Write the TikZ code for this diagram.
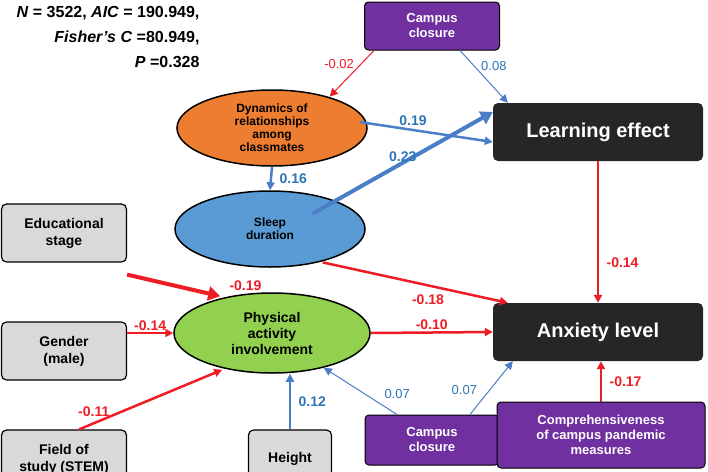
\documentclass[tikz,border=0pt]{standalone}
\usepackage{fontspec}
\setmainfont{Liberation Sans}
\usetikzlibrary{arrows.meta,shapes.geometric,positioning}
\definecolor{rd}{HTML}{EE1C24}
\definecolor{bl}{HTML}{4A7EC7}
\definecolor{lb}{HTML}{2E75B6}
\definecolor{org}{HTML}{ED7D31}
\definecolor{sky}{HTML}{5B9BD5}
\definecolor{grn}{HTML}{92D050}
\definecolor{pur}{HTML}{7030A0}
\definecolor{gry}{HTML}{D9D9D9}
\definecolor{blk}{HTML}{262626}
\tikzset{
 ell/.style={ellipse,draw=black,line width=1.5pt,minimum width=190,minimum height=76,align=center,font=\bfseries\fontsize{12}{13}\selectfont,inner sep=0pt},
 gbox/.style={rectangle,rounded corners=5,draw=black,line width=1.2pt,fill=gry,minimum width=125,minimum height=58,align=center,font=\bfseries\fontsize{14}{17}\selectfont},
 pbox/.style={rectangle,rounded corners=4,draw=black,line width=1pt,fill=pur,text=white,align=center,font=\bfseries\fontsize{13}{15}\selectfont},
 kbox/.style={rectangle,rounded corners=5,fill=blk,text=white,minimum width=210,minimum height=58,font=\bfseries\fontsize{20}{22}\selectfont},
 ar/.style={-{Triangle[length=8,width=8]}},
 rt/.style={ar,draw=rd,line width=1pt},
 rm/.style={ar,draw=rd,line width=2.5pt},
 rk/.style={ar,draw=rd,line width=4pt,-{Triangle[length=12,width=14]}},
 bt/.style={ar,draw=bl,line width=1pt},
 bm/.style={ar,draw=bl,line width=2.5pt},
 bk/.style={ar,draw=bl,line width=4pt,-{Triangle[length=12,width=14]}},
 rl/.style={text=rd,font=\bfseries\fontsize{14}{16}\selectfont},
 bl2/.style={text=lb,font=\bfseries\fontsize{14}{16}\selectfont},
 rs/.style={text=rd,font=\fontsize{13}{15}\selectfont},
 bs/.style={text=lb,font=\fontsize{13}{15}\selectfont},
}
\begin{document}
\begin{tikzpicture}[x=1pt,y=-1pt]
\useasboundingbox (0,0) rectangle (708,471);
\node[font=\bfseries\fontsize{16}{25}\selectfont,align=right,anchor=north east] (st) at (203,3) {\textit{N} = 3522, \textit{AIC} = 190.949,\\\textit{Fisher's C} =80.949,\\\textit{P} =0.328};
\node[pbox,minimum width=135,minimum height=48] (cc1) at (432,26) {Campus\\closure};
\node[ell,fill=org] (dyn) at (272,128) {Dynamics of\\relationships\\among\\classmates};
\node[kbox] (le) at (598,132) {Learning effect};
\node[ell,fill=sky] (sl) at (270,229) {Sleep\\duration};
\node[gbox] (ed) at (64,233) {Educational\\stage};
\node[gbox] (ge) at (64,351) {Gender\\(male)};
\node[gbox] (fi) at (64,459) {Field of\\study (STEM)};
\node[ell,fill=grn,minimum width=196,minimum height=80,font=\bfseries\fontsize{14}{16}\selectfont] (pa) at (272,333) {Physical\\activity\\involvement};
\node[kbox] (an) at (598,332) {Anxiety level};
\node[gbox,minimum width=83] (he) at (290,459) {Height};
\node[pbox,minimum width=134,minimum height=50] (cc2) at (432,440) {Campus\\closure};
\node[pbox,minimum width=208,minimum height=66] (co) at (601,435) {Comprehensiveness\\of campus pandemic\\measures};
% arrows
\draw[rt] ([xshift=10]cc1.south west) -- ([xshift=-10,yshift=4]dyn.north east) node[pos=0.3,rs,left=3] {-0.02};
\draw[bt] ([xshift=28]cc1.south) -- ([xshift=15]le.north west) node[pos=0.3,bs,right=3] {0.08};
\draw[bm] ([xshift=-8]dyn.east |- le.west) ++(0,-10) -- ([yshift=-10]le.west) node[pos=0.4,bl2,above] {0.19};
\draw[bm] (dyn.south) -- (sl.north) node[midway,bl2,right=4] {0.16};
\draw[bk] ([xshift=-25,yshift=-12]sl.north east) -- ([yshift=20]le.west) node[pos=0.5,bl2,above=4] {0.23};
\draw[rm] ([xshift=-15,yshift=-6]sl.south east) -- ([xshift=15]an.north west) node[pos=0.68,rl,below left=0] {-0.18};
\draw[rm] (le.south) -- (an.north) node[pos=0.72,rl,right=4] {-0.14};
\draw[rk] ([yshift=-12]ed.south east) -- ([xshift=18,yshift=8]pa.north west) node[pos=1,rl,anchor=south west,xshift=4] {-0.19};
\draw[rm] (ge.east |- pa.west) -- (pa.west) node[midway,rl,above=2] {-0.14};
\draw[rm] ([xshift=15]fi.north) -- ([xshift=20,yshift=-8]pa.south west) node[pos=0.3,rl,left=8] {-0.11};
\draw[rm] (pa.east) -- (an.west) node[midway,rl,above=2] {-0.10};
\draw[bm] (he.north) -- (he.north |- pa.south) node[midway,bl2,right=4] {0.12};
\draw[bt] ([xshift=-35]cc2.north) -- ([xshift=-18,yshift=-6]pa.south east) node[pos=0.25,bs,anchor=south west,xshift=2] {0.07};
\draw[bt] ([xshift=38]cc2.north) -- ([xshift=20]an.south west) node[pos=0.3,bs,anchor=south east,xshift=-2] {0.07};
\draw[rm] (co.north) -- (co.north |- an.south) node[midway,rl,right=4] {-0.17};
\end{tikzpicture}
\end{document}
